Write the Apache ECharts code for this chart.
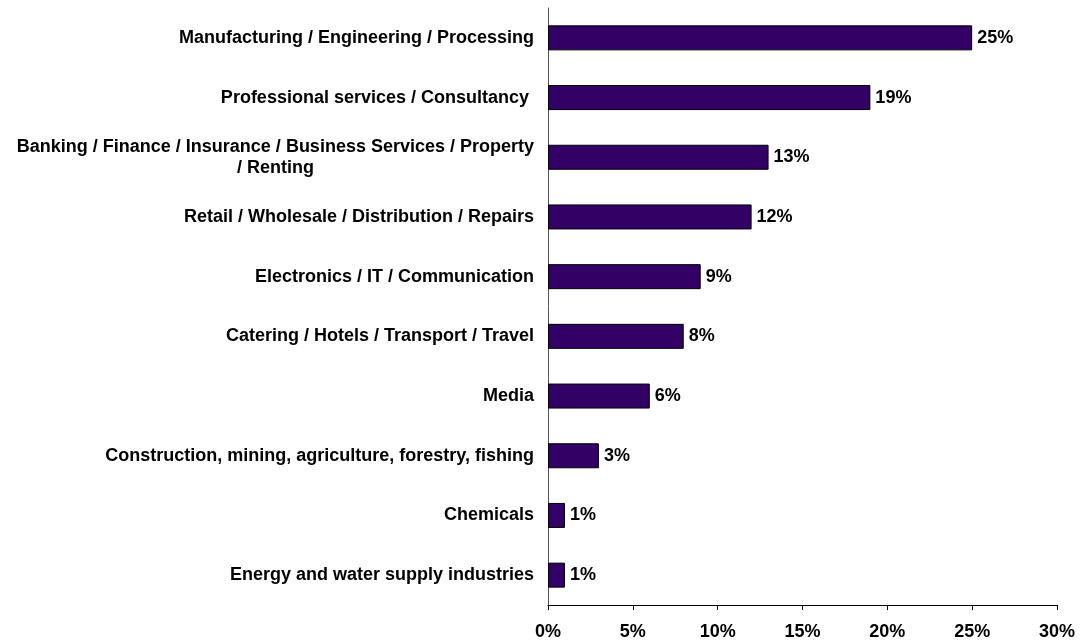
<!DOCTYPE html>
<html>
<head>
<meta charset="utf-8">
<title>Industry sectors</title>
<script src="https://cdn.jsdelivr.net/npm/echarts@6/dist/echarts.min.js"></script>
<style>
  html, body { margin: 0; padding: 0; background: #ffffff; }
  #chart { width: 1080px; height: 643px; }
</style>
</head>
<body>
<div id="chart"></div>
<script>
// Sectors, top to bottom
const categories = [
  'Manufacturing / Engineering / Processing',
  'Professional services / Consultancy ',
  'Banking / Finance / Insurance / Business Services / Property\n/ Renting',
  'Retail / Wholesale / Distribution / Repairs',
  'Electronics / IT / Communication',
  'Catering / Hotels / Transport / Travel',
  'Media',
  'Construction, mining, agriculture, forestry, fishing',
  'Chemicals',
  'Energy and water supply industries'
];

// Share of respondents per sector (%)
const shares = [25, 19, 13, 12, 9, 8, 6, 3, 1, 1];

// Value axis tick range (%)
const axisMin = 0;
const axisMax = 30;
const axisStep = 5;

const FONT = '"Liberation Sans", Arial, sans-serif';
const FONT_SIZE = 18;

const chart = echarts.init(document.getElementById('chart'), null, { renderer: 'canvas' });

chart.setOption({
  backgroundColor: '#ffffff',
  animation: false,
  grid: { left: 548, right: 23, top: 8, bottom: 38, containLabel: false },
  xAxis: {
    type: 'value',
    min: axisMin,
    max: axisMax,
    interval: axisStep,
    axisLine: { show: true, lineStyle: { color: '#000000', width: 1 } },
    axisTick: { show: true, length: 5, lineStyle: { color: '#000000' } },
    splitLine: { show: false },
    axisLabel: {
      formatter: '{value}%',
      margin: 18,
      color: '#000000',
      fontFamily: FONT,
      fontWeight: 'bold',
      fontSize: FONT_SIZE
    }
  },
  yAxis: {
    type: 'category',
    inverse: true,
    data: categories,
    axisLine: { show: true, lineStyle: { color: '#555555', width: 1 } },
    axisTick: { show: false },
    splitLine: { show: false },
    axisLabel: {
      margin: 14,
      color: '#000000',
      fontFamily: FONT,
      fontWeight: 'bold',
      fontSize: FONT_SIZE,
      lineHeight: 21,
      // wrapped lines are centred on each other, block sits right of the axis
      formatter: function (v) {
        return v.split('\n').map(function (s) { return '{c|' + s + '}'; }).join('\n');
      },
      rich: {
        c: {
          align: 'center',
          color: '#000000',
          fontFamily: FONT,
          fontWeight: 'bold',
          fontSize: FONT_SIZE,
          lineHeight: 21
        }
      }
    }
  },
  series: [{
    type: 'bar',
    data: shares,
    barWidth: 25,
    itemStyle: { color: '#330066', borderColor: '#000000', borderWidth: 1 },
    label: {
      show: true,
      position: 'right',
      distance: 5,
      formatter: '{c}%',
      color: '#000000',
      fontFamily: FONT,
      fontWeight: 'bold',
      fontSize: FONT_SIZE
    }
  }]
});
</script>
</body>
</html>
